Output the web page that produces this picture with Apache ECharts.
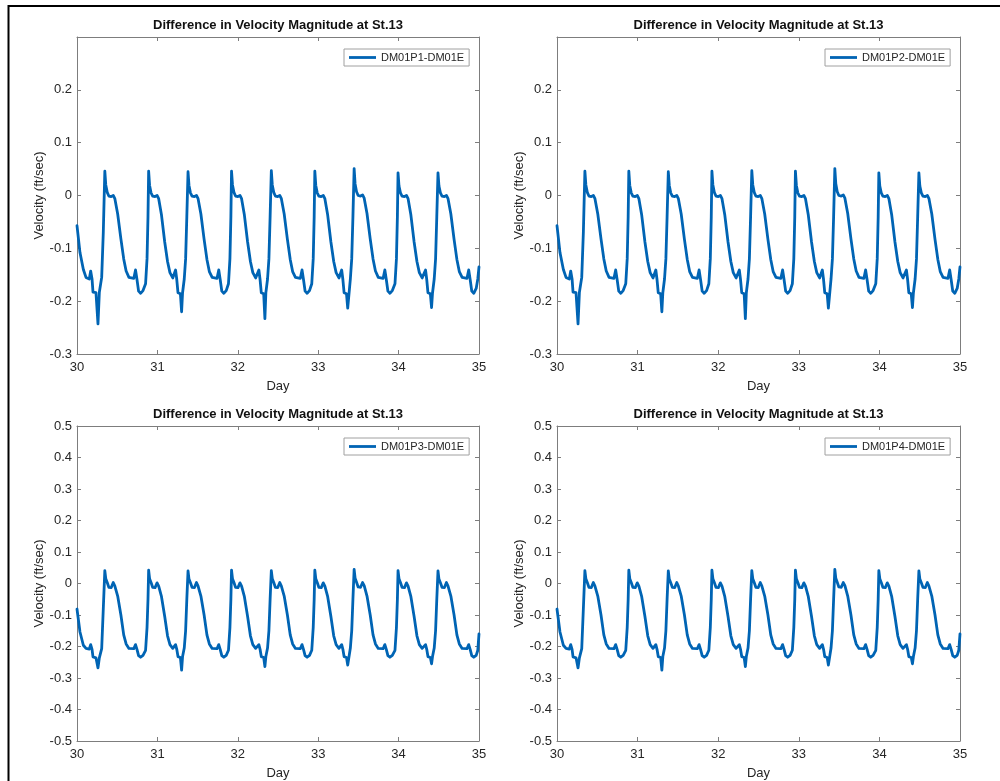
<!DOCTYPE html>
<html>
<head>
<meta charset="utf-8">
<script src="https://cdn.jsdelivr.net/npm/echarts@6/dist/echarts.min.js"></script>
<style>
html,body{margin:0;padding:0;background:#fff;}
#chart{width:1000px;height:781px;}
</style>
</head>
<body>
<div id="chart"></div>
<script>
// ---- data ----
const titleText = 'Difference in Velocity Magnitude at St.13';
const seriesNames = ['DM01P1-DM01E', 'DM01P2-DM01E', 'DM01P3-DM01E', 'DM01P4-DM01E'];
const xTicks = [30, 31, 32, 33, 34, 35];
const yTicksTop = [-0.3, -0.2, -0.1, 0, 0.1, 0.2];
const yTicksBottom = [-0.5, -0.4, -0.3, -0.2, -0.1, 0, 0.1, 0.2, 0.3, 0.4, 0.5];

const days = [
  30.000, 30.037, 30.079, 30.112, 30.153, 30.170, 30.187, 30.199, 30.236, 30.261, 30.278, 30.307, 30.327,
  30.346, 30.358, 30.376, 30.396, 30.426, 30.451, 30.471, 30.506, 30.546, 30.581, 30.611, 30.646,
  30.706, 30.728, 30.746, 30.766, 30.791, 30.821, 30.853, 30.871, 30.883,
  30.891, 30.903, 30.921, 30.941, 30.971, 30.996, 31.016, 31.051, 31.091, 31.126, 31.156, 31.191,
  31.226, 31.241, 31.256, 31.286, 31.301, 31.313, 31.334, 31.351, 31.366,
  31.381, 31.393, 31.411, 31.431, 31.461, 31.486, 31.506, 31.541, 31.581, 31.616, 31.646, 31.681,
  31.741, 31.763, 31.781, 31.801, 31.826, 31.856, 31.884, 31.902, 31.914,
  31.922, 31.934, 31.952, 31.972, 32.002, 32.027, 32.047, 32.082, 32.122, 32.157, 32.187, 32.222,
  32.262, 32.277, 32.292, 32.322, 32.337, 32.349, 32.370, 32.387, 32.402,
  32.417, 32.429, 32.447, 32.467, 32.497, 32.522, 32.542, 32.577, 32.617, 32.652, 32.682, 32.717,
  32.777, 32.799, 32.817, 32.837, 32.862, 32.892, 32.920, 32.938, 32.950,
  32.958, 32.970, 32.988, 33.008, 33.038, 33.063, 33.083, 33.118, 33.158, 33.193, 33.223, 33.258,
  33.292, 33.307, 33.322, 33.352, 33.367, 33.379, 33.400, 33.417, 33.432,
  33.447, 33.459, 33.477, 33.497, 33.527, 33.552, 33.572, 33.607, 33.647, 33.682, 33.712, 33.747,
  33.807, 33.829, 33.847, 33.867, 33.892, 33.922, 33.955, 33.973, 33.985,
  33.993, 34.005, 34.023, 34.043, 34.073, 34.098, 34.118, 34.153, 34.193, 34.228, 34.258, 34.293,
  34.335, 34.350, 34.365, 34.395, 34.410, 34.422, 34.443, 34.460, 34.475,
  34.490, 34.502, 34.520, 34.540, 34.570, 34.595, 34.615, 34.650, 34.690, 34.725, 34.755, 34.790,
  34.850, 34.872, 34.890, 34.910, 34.935, 34.965, 34.985, 35.000
];

const p1Values = [
  -0.057, -0.108, -0.140, -0.155, -0.158, -0.143, -0.158, -0.183, -0.184, -0.243, -0.183, -0.155, -0.070,
  0.046, 0.020, 0.006, -0.001, -0.002, 0.000, -0.006, -0.035, -0.082, -0.120, -0.143, -0.155,
  -0.157, -0.141, -0.159, -0.181, -0.185, -0.180, -0.167, -0.120, -0.040,
  0.046, 0.019, 0.005, -0.001, -0.002, 0.000, -0.006, -0.037, -0.088, -0.125, -0.146, -0.156,
  -0.141, -0.159, -0.184, -0.186, -0.220, -0.184, -0.158, -0.120, -0.040,
  0.045, 0.019, 0.005, -0.001, -0.002, 0.000, -0.006, -0.035, -0.083, -0.121, -0.144, -0.155,
  -0.157, -0.141, -0.159, -0.181, -0.185, -0.180, -0.167, -0.120, -0.040,
  0.046, 0.020, 0.006, -0.001, -0.002, 0.000, -0.006, -0.037, -0.088, -0.125, -0.146, -0.156,
  -0.141, -0.159, -0.184, -0.186, -0.233, -0.184, -0.158, -0.120, -0.040,
  0.047, 0.020, 0.006, -0.001, -0.002, 0.000, -0.006, -0.035, -0.083, -0.121, -0.144, -0.155,
  -0.157, -0.141, -0.159, -0.181, -0.185, -0.180, -0.167, -0.120, -0.040,
  0.046, 0.019, 0.005, -0.001, -0.002, 0.000, -0.006, -0.037, -0.088, -0.125, -0.146, -0.156,
  -0.141, -0.159, -0.184, -0.186, -0.213, -0.211, -0.158, -0.120, -0.040,
  0.051, 0.022, 0.007, 0.000, -0.001, 0.001, -0.005, -0.034, -0.082, -0.120, -0.143, -0.155,
  -0.157, -0.141, -0.159, -0.181, -0.185, -0.180, -0.167, -0.120, -0.040,
  0.043, 0.018, 0.005, -0.001, -0.002, 0.000, -0.006, -0.037, -0.088, -0.125, -0.146, -0.156,
  -0.141, -0.159, -0.184, -0.186, -0.212, -0.184, -0.158, -0.120, -0.040,
  0.043, 0.018, 0.005, -0.001, -0.002, 0.000, -0.006, -0.035, -0.083, -0.121, -0.144, -0.155,
  -0.157, -0.141, -0.159, -0.181, -0.185, -0.176, -0.158, -0.135
];

const p2Values = [
  -0.057, -0.108, -0.140, -0.155, -0.158, -0.143, -0.158, -0.183, -0.184, -0.243, -0.183, -0.155, -0.070,
  0.046, 0.020, 0.006, -0.001, -0.002, 0.000, -0.006, -0.035, -0.082, -0.120, -0.143, -0.155,
  -0.157, -0.141, -0.159, -0.181, -0.185, -0.180, -0.167, -0.120, -0.040,
  0.046, 0.019, 0.005, -0.001, -0.002, 0.000, -0.006, -0.037, -0.088, -0.125, -0.146, -0.156,
  -0.141, -0.159, -0.184, -0.186, -0.220, -0.184, -0.158, -0.120, -0.040,
  0.045, 0.019, 0.005, -0.001, -0.002, 0.000, -0.006, -0.035, -0.083, -0.121, -0.144, -0.155,
  -0.157, -0.141, -0.159, -0.181, -0.185, -0.180, -0.167, -0.120, -0.040,
  0.046, 0.020, 0.006, -0.001, -0.002, 0.000, -0.006, -0.037, -0.088, -0.125, -0.146, -0.156,
  -0.141, -0.159, -0.184, -0.186, -0.233, -0.184, -0.158, -0.120, -0.040,
  0.047, 0.020, 0.006, -0.001, -0.002, 0.000, -0.006, -0.035, -0.083, -0.121, -0.144, -0.155,
  -0.157, -0.141, -0.159, -0.181, -0.185, -0.180, -0.167, -0.120, -0.040,
  0.046, 0.019, 0.005, -0.001, -0.002, 0.000, -0.006, -0.037, -0.088, -0.125, -0.146, -0.156,
  -0.141, -0.159, -0.184, -0.186, -0.213, -0.211, -0.158, -0.120, -0.040,
  0.051, 0.022, 0.007, 0.000, -0.001, 0.001, -0.005, -0.034, -0.082, -0.120, -0.143, -0.155,
  -0.157, -0.141, -0.159, -0.181, -0.185, -0.180, -0.167, -0.120, -0.040,
  0.043, 0.018, 0.005, -0.001, -0.002, 0.000, -0.006, -0.037, -0.088, -0.125, -0.146, -0.156,
  -0.141, -0.159, -0.184, -0.186, -0.212, -0.184, -0.158, -0.120, -0.040,
  0.043, 0.018, 0.005, -0.001, -0.002, 0.000, -0.006, -0.035, -0.083, -0.121, -0.144, -0.155,
  -0.157, -0.141, -0.159, -0.181, -0.185, -0.176, -0.158, -0.135
];

const p3Values = [
  -0.081, -0.154, -0.196, -0.206, -0.208, -0.194, -0.209, -0.233, -0.236, -0.268, -0.236, -0.207, -0.080,
  0.041, 0.015, 0.003, -0.012, -0.013, 0.003, -0.008, -0.040, -0.100, -0.163, -0.192, -0.206,
  -0.207, -0.194, -0.209, -0.229, -0.234, -0.228, -0.212, -0.140, -0.050,
  0.042, 0.015, 0.003, -0.012, -0.013, 0.002, -0.008, -0.042, -0.105, -0.166, -0.194, -0.206,
  -0.194, -0.209, -0.232, -0.235, -0.275, -0.232, -0.205, -0.150, -0.050,
  0.040, 0.014, 0.002, -0.012, -0.013, 0.003, -0.008, -0.040, -0.100, -0.163, -0.192, -0.206,
  -0.207, -0.194, -0.209, -0.229, -0.234, -0.228, -0.212, -0.140, -0.050,
  0.042, 0.015, 0.003, -0.012, -0.013, 0.002, -0.008, -0.042, -0.105, -0.166, -0.194, -0.206,
  -0.194, -0.209, -0.232, -0.235, -0.264, -0.232, -0.205, -0.150, -0.050,
  0.041, 0.015, 0.003, -0.012, -0.013, 0.003, -0.008, -0.040, -0.100, -0.163, -0.192, -0.206,
  -0.207, -0.194, -0.209, -0.229, -0.234, -0.228, -0.212, -0.140, -0.050,
  0.042, 0.015, 0.003, -0.012, -0.013, 0.002, -0.008, -0.042, -0.105, -0.166, -0.194, -0.206,
  -0.194, -0.209, -0.232, -0.235, -0.259, -0.257, -0.205, -0.150, -0.050,
  0.045, 0.017, 0.004, -0.011, -0.012, 0.003, -0.007, -0.040, -0.100, -0.163, -0.192, -0.206,
  -0.207, -0.194, -0.209, -0.229, -0.234, -0.228, -0.212, -0.140, -0.050,
  0.041, 0.015, 0.003, -0.012, -0.013, 0.002, -0.008, -0.042, -0.105, -0.166, -0.194, -0.206,
  -0.194, -0.209, -0.232, -0.235, -0.255, -0.232, -0.205, -0.150, -0.050,
  0.040, 0.014, 0.002, -0.012, -0.013, 0.003, -0.008, -0.040, -0.100, -0.163, -0.192, -0.206,
  -0.207, -0.194, -0.209, -0.229, -0.234, -0.228, -0.212, -0.160
];

const p4Values = [
  -0.081, -0.154, -0.196, -0.206, -0.208, -0.194, -0.209, -0.233, -0.236, -0.268, -0.236, -0.207, -0.080,
  0.041, 0.015, 0.003, -0.012, -0.013, 0.003, -0.008, -0.040, -0.100, -0.163, -0.192, -0.206,
  -0.207, -0.194, -0.209, -0.229, -0.234, -0.228, -0.212, -0.140, -0.050,
  0.042, 0.015, 0.003, -0.012, -0.013, 0.002, -0.008, -0.042, -0.105, -0.166, -0.194, -0.206,
  -0.194, -0.209, -0.232, -0.235, -0.275, -0.232, -0.205, -0.150, -0.050,
  0.040, 0.014, 0.002, -0.012, -0.013, 0.003, -0.008, -0.040, -0.100, -0.163, -0.192, -0.206,
  -0.207, -0.194, -0.209, -0.229, -0.234, -0.228, -0.212, -0.140, -0.050,
  0.042, 0.015, 0.003, -0.012, -0.013, 0.002, -0.008, -0.042, -0.105, -0.166, -0.194, -0.206,
  -0.194, -0.209, -0.232, -0.235, -0.264, -0.232, -0.205, -0.150, -0.050,
  0.041, 0.015, 0.003, -0.012, -0.013, 0.003, -0.008, -0.040, -0.100, -0.163, -0.192, -0.206,
  -0.207, -0.194, -0.209, -0.229, -0.234, -0.228, -0.212, -0.140, -0.050,
  0.042, 0.015, 0.003, -0.012, -0.013, 0.002, -0.008, -0.042, -0.105, -0.166, -0.194, -0.206,
  -0.194, -0.209, -0.232, -0.235, -0.259, -0.257, -0.205, -0.150, -0.050,
  0.045, 0.017, 0.004, -0.011, -0.012, 0.003, -0.007, -0.040, -0.100, -0.163, -0.192, -0.206,
  -0.207, -0.194, -0.209, -0.229, -0.234, -0.228, -0.212, -0.140, -0.050,
  0.041, 0.015, 0.003, -0.012, -0.013, 0.002, -0.008, -0.042, -0.105, -0.166, -0.194, -0.206,
  -0.194, -0.209, -0.232, -0.235, -0.255, -0.232, -0.205, -0.150, -0.050,
  0.040, 0.014, 0.002, -0.012, -0.013, 0.003, -0.008, -0.040, -0.100, -0.163, -0.192, -0.206,
  -0.207, -0.194, -0.209, -0.229, -0.234, -0.228, -0.212, -0.160
];

// ---- chart ----
const FONT = '"Liberation Sans", Arial, Helvetica, sans-serif';
const LINE_COLOR = '#0064b4';
const AXIS_COLOR = '#7d7d7d';
const TEXT_COLOR = '#262626';

const panels = [
  {grid: {left: 77, top: 37, width: 402, height: 317}, ticks: yTicksTop, yMax: 0.3, values: p1Values, titleTop: 19, legend: {left: 344, top: 49}},
  {grid: {left: 557, top: 37, width: 403, height: 317}, ticks: yTicksTop, yMax: 0.3, values: p2Values, titleTop: 19, legend: {left: 825, top: 49}},
  {grid: {left: 77, top: 426, width: 402, height: 317}, ticks: yTicksBottom, yMax: 0.5, values: p3Values, titleTop: 408, legend: {left: 344, top: 438}},
  {grid: {left: 557, top: 426, width: 403, height: 317}, ticks: yTicksBottom, yMax: 0.5, values: p4Values, titleTop: 408, legend: {left: 825, top: 438}}
];

function fmt(v) {
  const r = Math.round(v * 10) / 10;
  return r === 0 ? '0' : String(r);
}

const option = {
  backgroundColor: '#fff',
  animation: false,
  title: [], grid: [], xAxis: [], yAxis: [], legend: [], series: [],
  graphic: [
    {type: 'line', shape: {x1: 8, y1: 6, x2: 1000, y2: 6}, style: {stroke: '#000', lineWidth: 2}},
    {type: 'line', shape: {x1: 8.5, y1: 5, x2: 8.5, y2: 781}, style: {stroke: '#000', lineWidth: 2}}
  ]
};

panels.forEach((p, i) => {
  const g = p.grid;
  option.grid.push(Object.assign({containLabel: false}, g));
  option.title.push({
    text: titleText,
    left: g.left + g.width / 2,
    top: p.titleTop,
    textAlign: 'center',
    padding: 0,
    textStyle: {fontFamily: FONT, fontSize: 13, fontWeight: 'bold', color: '#111'}
  });
  const commonX = {
    type: 'value', gridIndex: i, min: xTicks[0], max: xTicks[xTicks.length - 1], interval: 1,
    axisLine: {show: true, onZero: false, lineStyle: {color: AXIS_COLOR, width: 1}},
    axisTick: {show: true, inside: true, length: 4, lineStyle: {color: AXIS_COLOR}},
    splitLine: {show: false}
  };
  option.xAxis.push(Object.assign({}, commonX, {
    position: 'bottom',
    name: 'Day', nameLocation: 'middle', nameGap: 26,
    nameTextStyle: {fontFamily: FONT, fontSize: 13, color: TEXT_COLOR},
    axisLabel: {show: true, margin: 7, fontFamily: FONT, fontSize: 13, color: TEXT_COLOR}
  }));
  option.xAxis.push(Object.assign({}, commonX, {position: 'top', axisLabel: {show: false}}));
  const commonY = {
    type: 'value', gridIndex: i, min: p.ticks[0], max: p.yMax, interval: 0.1,
    axisLine: {show: true, onZero: false, lineStyle: {color: AXIS_COLOR, width: 1}},
    axisTick: {show: true, inside: true, length: 4, lineStyle: {color: AXIS_COLOR}},
    splitLine: {show: false}
  };
  const ticks = p.ticks;
  option.yAxis.push(Object.assign({}, commonY, {
    position: 'left',
    name: 'Velocity (ft/sec)', nameLocation: 'middle', nameGap: 31,
    nameTextStyle: {fontFamily: FONT, fontSize: 13, color: TEXT_COLOR},
    axisLabel: {
      show: true, margin: 5, fontFamily: FONT, fontSize: 13, color: TEXT_COLOR,
      formatter: (v) => {
        const r = Math.round(v * 10) / 10;
        return ticks.some(t => Math.abs(t - r) < 1e-9) ? fmt(v) : '';
      }
    }
  }));
  option.yAxis.push(Object.assign({}, commonY, {position: 'right', axisLabel: {show: false}}));
  option.legend.push({
    left: p.legend.left, top: p.legend.top,
    data: [seriesNames[i]],
    icon: 'path://M0,0H27V2.8H0Z',
    symbolKeepAspect: true,
    padding: [3, 5, 3, 5],
    itemWidth: 27, itemHeight: 13, itemGap: 5,
    borderColor: '#a0a0a0', borderWidth: 1, borderRadius: 0,
    backgroundColor: '#fff',
    textStyle: {fontFamily: FONT, fontSize: 11, color: TEXT_COLOR}
  });
  option.series.push({
    name: seriesNames[i],
    type: 'line',
    xAxisIndex: i * 2, yAxisIndex: i * 2,
    data: days.map((d, k) => [d, p.values[k]]),
    symbol: 'none', showSymbol: false,
    lineStyle: {color: LINE_COLOR, width: 2.8, join: 'round', cap: 'round'},
    itemStyle: {color: LINE_COLOR},
    smooth: false,
    clip: true
  });
});

const chart = echarts.init(document.getElementById('chart'), null, {renderer: 'canvas'});
chart.setOption(option);
</script>
</body>
</html>
